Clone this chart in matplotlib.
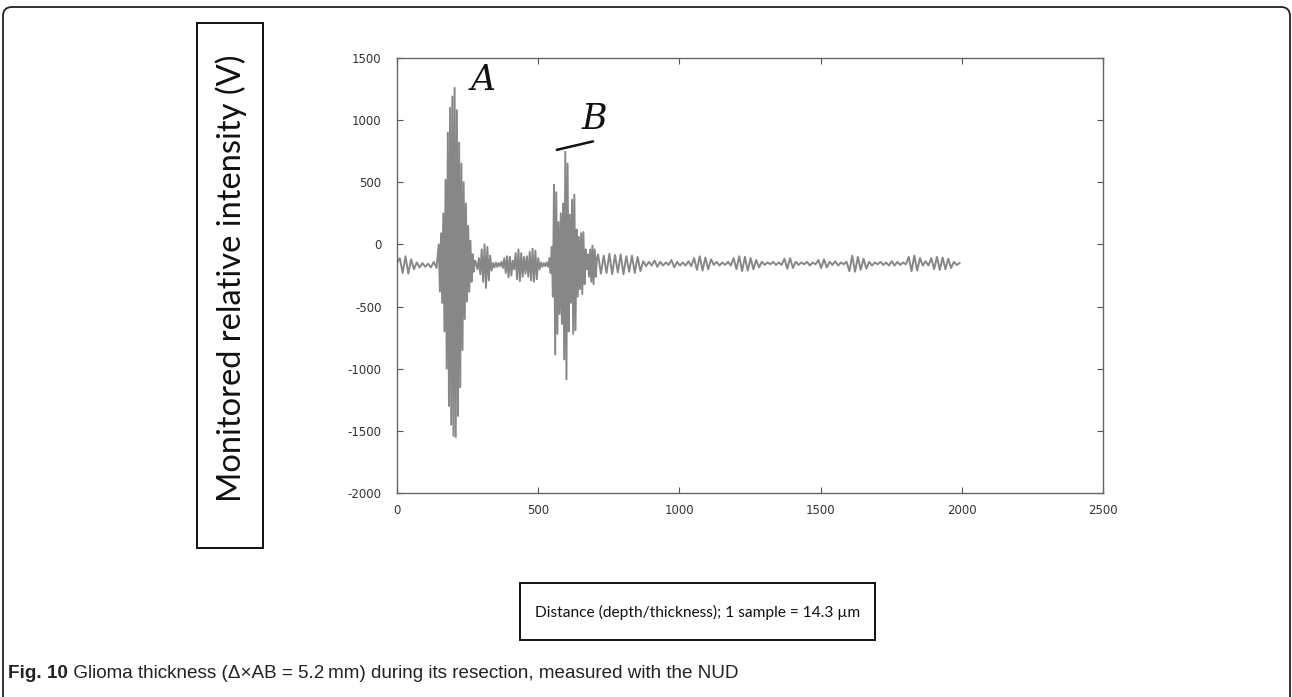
import numpy as np
import matplotlib
matplotlib.use("Agg")
import matplotlib.pyplot as plt
from matplotlib.patches import FancyBboxPatch, Rectangle

plt.rcParams["axes.unicode_minus"] = False

# sample segments: start sample, step between readings, and read values (alternating peak/trough)
seg_start = [0, 148, 280, 540, 712]
seg_step = [10, 4, 5, 4, 10]

noise_start = [-150, -110, -230, -95, -235, -120, -200, -145, -185, -150,
               -180, -155, -185, -140, -190]

burst_a = [0, -380, 90, -470, 250, -700, 520, -1000, 900, -1300,
           1100, -1450, 1190, -1540, 1260, -1550, 1080, -1380, 820, -1150,
           650, -850, 500, -600, 330, -460, 150, -380, 30, -300,
           -80, -220, -130]

gap_ab = [-150, -200, -110, -240, -40, -300, 0, -350, -20, -290,
          -90, -210, -150, -185, -145, -180, -150, -175, -140, -190,
          -110, -230, -95, -265, -100, -250, -130, -200, -70, -280,
          -40, -295, -70, -260, -100, -235, -95, -260, -60, -290,
          -35, -300, -50, -280, -110, -200, -145, -180, -150, -175,
          -145, -180]

burst_b = [-110, -230, -20, -420, 480, -885, 420, -720, 180, -560,
           250, -640, 330, -925, 745, -1085, 650, -700, 240, -470,
           360, -720, 400, -690, 120, -420, 60, -360, 90, -400,
           100, -320, -40, -200, -80, -260, -40, -300, -10, -320,
           -40, -260, -110]

tail = [-80, -235, -90, -230, -75, -240, -85, -225, -80, -240,
        -95, -220, -90, -230, -100, -215, -135, -175, -140, -170,
        -130, -180, -140, -170, -145, -165, -125, -185, -140, -170,
        -145, -170, -135, -175, -110, -205, -95, -210, -105, -200,
        -120, -165, -140, -170, -145, -165, -140, -170, -110, -200,
        -95, -215, -100, -210, -110, -200, -125, -185, -140, -165,
        -145, -160, -140, -165, -145, -165, -115, -195, -110, -190,
        -140, -165, -145, -160, -140, -170, -145, -160, -125, -190,
        -120, -185, -140, -165, -135, -170, -145, -160, -140, -215,
        -90, -220, -100, -205, -115, -195, -140, -170, -145, -160,
        -140, -165, -145, -170, -135, -170, -140, -165, -145, -160,
        -100, -215, -90, -210, -110, -170, -135, -170, -110, -200,
        -100, -205, -105, -200, -115, -190, -140, -165, -150]

x_ticks = [0, 500, 1000, 1500, 2000, 2500]
y_ticks = [-2000, -1500, -1000, -500, 0, 500, 1000, 1500]

ylabel = "Monitored relative intensity (V)"
xlabel = "Distance (depth/thickness); 1 sample = 14.3 \u00b5m"
cap_bold = "Fig. 10"
cap_rest = " Glioma thickness (\u0394\u00d7AB = 5.2\u2009mm) during its resection, measured with the NUD"

segments = [noise_start, burst_a, gap_ab, burst_b, tail]
xs, ys = [], []
for s0, st, vals in zip(seg_start, seg_step, segments):
    xs.append(s0 + st * np.arange(len(vals)))
    ys.append(np.array(vals))
x = np.concatenate(xs)
y = np.concatenate(ys)

W, H = 1292, 697
fig = plt.figure(figsize=(W / 100, H / 100), dpi=100)
fig.patch.set_facecolor("white")

# overlay in pixel coords for the boxes and caption
ov = fig.add_axes([0, 0, 1, 1])
ov.set_xlim(0, W)
ov.set_ylim(H, 0)
ov.axis("off")
ov.patch.set_visible(False)

ov.add_patch(FancyBboxPatch((3, 7), 1287, 720, boxstyle="round,pad=0,rounding_size=9",
                            fill=False, ec="#222222", lw=1.3))

# plot
ax = fig.add_axes([397 / W, 1 - 493 / H, 706 / W, 435 / H])
ax.plot(x, y, color="#878787", lw=1.4)
ax.set_xlim(0, 2500)
ax.set_ylim(-2000, 1500)
ax.set_xticks(x_ticks)
ax.set_yticks(y_ticks)
ax.tick_params(direction="in", top=True, right=True, length=4, width=0.8,
               color="#555555", labelcolor="#333333", labelsize=8.5)
ax.tick_params(axis="y", pad=11)
ax.tick_params(axis="x", pad=8)
for sp in ax.spines.values():
    sp.set_color("#666666")
    sp.set_linewidth(1.0)

# handwritten peak marks
ax.text(307, 1320, "A", fontsize=25, fontstyle="italic", family="DejaVu Serif",
        ha="center", va="center", color="#111111")
ax.text(700, 1010, "B", fontsize=25, fontstyle="italic", family="DejaVu Serif",
        ha="center", va="center", color="#111111")
ax.plot([566, 694], [761, 829], color="#111111", lw=1.8, solid_capstyle="round")

# boxed axis labels
ov.add_patch(Rectangle((197, 23), 66, 525, fill=False, ec="#111111", lw=1.4))
ov.text(231, 278, ylabel, rotation=90, ha="center", va="center",
        fontsize=23.5, family=["Lato", "DejaVu Sans"], color="#111111")

ov.add_patch(Rectangle((520, 583), 355, 57, fill=False, ec="#111111", lw=1.4))
ov.text(698, 612, xlabel, ha="center", va="center", fontsize=11.2,
        family=["Lato", "DejaVu Sans"], color="#111111")

# caption
cap_font = ["Liberation Sans", "DejaVu Sans"]
t1 = ov.text(8, 673, cap_bold, ha="left", va="center", fontsize=13.6, fontweight="bold",
             family=cap_font, color="#222222")
fig.canvas.draw()
bb = t1.get_window_extent()
x_end = ov.transData.inverted().transform((bb.x1, bb.y0))[0]
ov.text(x_end, 673, cap_rest, ha="left", va="center", fontsize=13.6,
        family=cap_font, color="#222222")

fig.savefig("out.png", dpi=100, facecolor="white")
